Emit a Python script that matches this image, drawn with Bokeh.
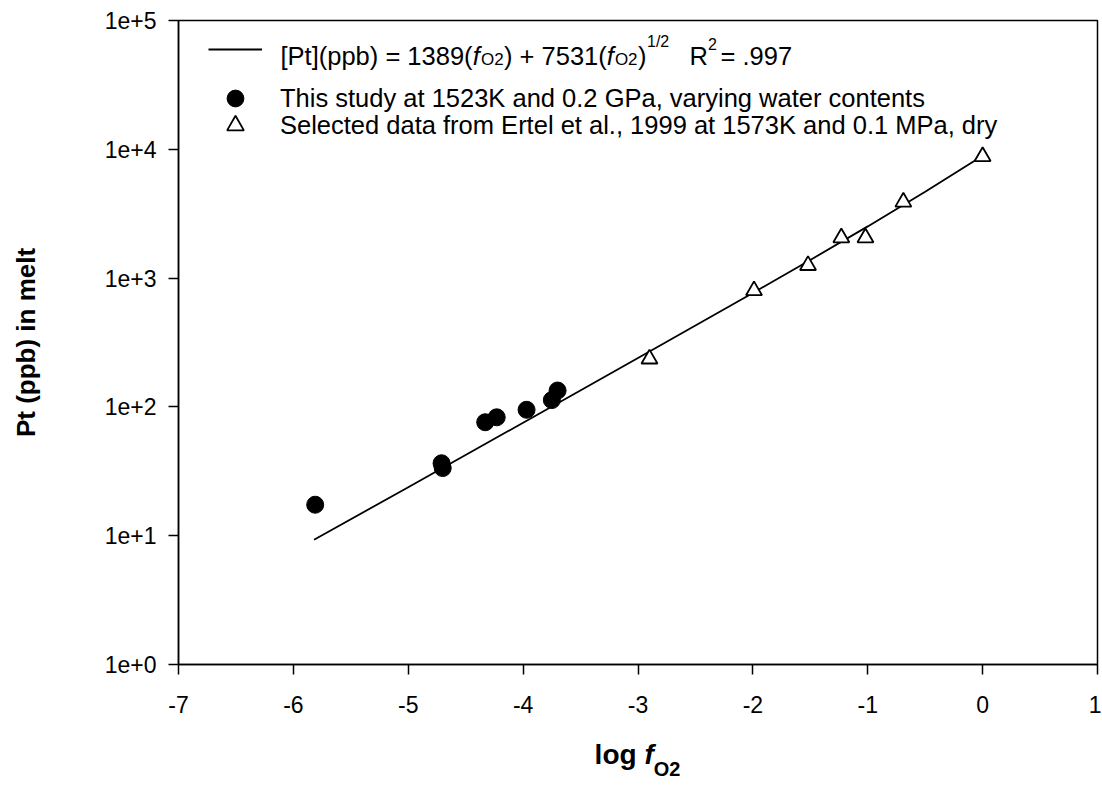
from bokeh.plotting import figure
from bokeh.models import Label, Legend, LegendItem, FixedTicker, Div
from bokeh.layouts import column
from bokeh.embed import file_html
from bokeh.resources import INLINE

# ---------------- data ----------------
this_study_logfo2 = [-5.81, -4.71, -4.70, -4.33, -4.23, -3.97, -3.75, -3.70]
this_study_pt = [17.4, 36.5, 33.5, 76, 83, 95, 113, 134]

ertel_logfo2 = [-2.90, -1.99, -1.52, -1.23, -1.02, -0.69, 0.0]
ertel_pt = [236, 800, 1255, 2060, 2060, 3900, 8800]

fit_logfo2 = [-5.82, -5.0, -4.0, -3.0, -2.0, -1.5, -1.0, -0.5, 0.0]
fit_pt = [9.3, 23.8, 75.4, 240, 767, 1383, 2520, 4674, 8920]

x_ticks = [-7, -6, -5, -4, -3, -2, -1, 0, 1]
x_tick_labels = ["-7", "-6", "-5", "-4", "-3", "-2", "-1", "0", "1"]
y_ticks = [1, 10, 100, 1000, 10000, 100000]
y_tick_labels = ["1e+0", "1e+1", "1e+2", "1e+3", "1e+4", "1e+5"]

legend_this = "This study at 1523K and 0.2 GPa, varying water contents"
legend_ertel = "Selected data from Ertel et al., 1999 at 1573K and 0.1 MPa, dry"

FONT = "Liberation Sans"

p = figure(width=1101, height=736, x_range=(-7, 1), y_range=(1, 1e5),
           y_axis_type="log", output_backend="svg", toolbar_location=None,
           min_border_left=178, min_border_right=4, min_border_top=20,
           min_border_bottom=72, background_fill_color="white",
           border_fill_color="white")

p.xgrid.visible = False
p.ygrid.visible = False
p.outline_line_color = "black"
p.outline_line_width = 1.5

for ax in (p.xaxis[0], p.yaxis[0]):
    ax.axis_line_width = 1.5
    ax.axis_line_color = "black"
    ax.major_tick_line_width = 1.5
    ax.major_tick_line_color = "black"
    ax.major_tick_in = 0
    ax.major_tick_out = 10
    ax.minor_tick_line_color = None
    ax.major_label_text_font = FONT
    ax.major_label_text_font_size = "23px"
    ax.major_label_text_color = "black"

p.xaxis.ticker = FixedTicker(ticks=x_ticks)
p.xaxis.major_label_overrides = {t: lab for t, lab in zip(x_ticks, x_tick_labels)}
p.xaxis.major_label_standoff = 21

p.yaxis.ticker = FixedTicker(ticks=y_ticks)
p.yaxis.major_label_overrides = {float(t): lab for t, lab in zip(y_ticks, y_tick_labels)}
p.yaxis.major_label_standoff = 12
p.yaxis.axis_label = "Pt (ppb) in melt"
p.yaxis.axis_label_text_font = FONT
p.yaxis.axis_label_text_font_size = "26px"
p.yaxis.axis_label_text_font_style = "bold"
p.yaxis.axis_label_text_color = "black"
p.yaxis.axis_label_standoff = 61

# ---------------- glyphs ----------------
fit_r = p.line(fit_logfo2, fit_pt, line_color="black", line_width=1.8)
this_r = p.scatter(this_study_logfo2, this_study_pt, marker="circle", size=17,
                   fill_color="black", line_color="black", line_width=1)
ertel_r = p.scatter(ertel_logfo2, ertel_pt, marker="triangle", size=16,
                    fill_color="white", line_color="black", line_width=1.8)

# ---------------- legends (one per row) ----------------
common = dict(border_line_color=None, background_fill_alpha=0, padding=0, margin=0,
              glyph_width=54, glyph_height=42, label_height=28, spacing=0,
              label_text_font=FONT, label_text_font_size="25.5px",
              label_text_color="black", label_standoff=18)

L = 178  # frame left in page px
B = 664  # frame bottom in page px

p.add_layout(Legend(items=[LegendItem(label=" ", renderers=[fit_r])],
                    location=(30, B - 49 - 21), **common))
p.add_layout(Legend(items=[LegendItem(label=legend_this, renderers=[this_r])],
                    location=(30, B - 98 - 21), **common))
p.add_layout(Legend(items=[LegendItem(label=legend_ertel, renderers=[ertel_r])],
                    location=(30, B - 125 - 21), **common))

# legend row 1: rich-text equation (screen units relative to frame bottom-left)
def lab(txt, x, y, size="25.5px", style="normal"):
    p.add_layout(Label(x=x, y=y, x_units="screen", y_units="screen", text=txt,
                       text_font=FONT, text_font_size=size, text_font_style=style,
                       text_color="black", text_align="left", text_baseline="alphabetic"))

row1 = 55          # baseline of the equation row (page px)
base = B - row1
sub = B - (row1 + 4)
sup = B - (row1 - 14)
lab("[Pt](ppb) = 1389(", 280 - L, base)
lab("f", 472.3 - L, base, style="italic")
lab("O2", 480.5 - L, sub, size="17px")
lab(") + 7531(", 503.5 - L, base)
lab("f", 606.3 - L, base, style="italic")
lab("O2", 614.4 - L, sub, size="17px")
lab(")", 637.4 - L, base)
lab("1/2", 646.5 - L, sup, size="16px")
lab("R", 689 - L, base)
lab("2", 707.6 - L, B - (row1 - 12), size="16px")
lab(" = .997", 720 - L, base)

# x-axis title: log f_O2 (rich text, below the figure)
xtitle = Div(
    text=('<div style="width:919px;font-family:\'Liberation Sans\';font-weight:bold;'
          'font-size:28px;line-height:32px;color:black;text-align:center;white-space:nowrap;">'
          'log <i>f</i><span style="font-size:20px;position:relative;top:12px;">O2</span></div>'),
    width=919, height=46, margin=(3, 0, 0, 178))

layout = column(p, xtitle, spacing=0)
open("out.html", "w").write(file_html(layout, INLINE))
